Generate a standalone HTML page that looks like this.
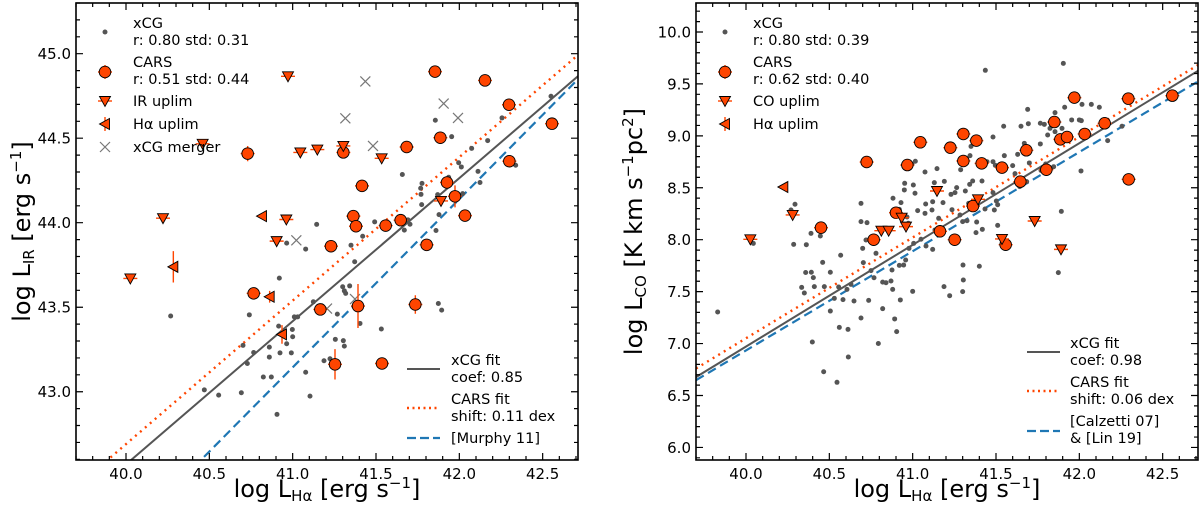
<!DOCTYPE html>
<html><head><meta charset="utf-8"><style>
html,body{margin:0;padding:0;background:#fff;overflow:hidden;width:1200px;height:512px;}
svg{display:block;font-family:"DejaVu Sans","Liberation Sans",sans-serif;}
</style></head><body>
<svg id="fig" width="1200" height="512" viewBox="0 0 1200 512"></svg>
<script>
// ---------- LEFT PANEL DATA ----------
const L_xcg_x=[41.856,41.954,42.170,42.074,42.256,42.550,42.338,41.658,41.996,42.012,42.112,42.124,41.776,41.768,41.936,41.770,41.870,42.020,41.774,41.878,41.860,41.670,41.692,41.704,41.492,41.144,41.420,40.964,41.078,41.350,41.372,40.920,41.300,41.342,41.310,41.318,41.124,40.740,40.268,41.030,41.010,40.998,40.916,41.000,40.964,40.702,41.404,41.268,41.532,41.874,41.894,40.766,40.924,40.992,41.256,41.304,41.310,40.860,40.860,40.728,41.188,41.224,41.078,40.824,40.872,40.470,40.556,40.692,41.104,40.906];
const L_xcg_y=[44.606,44.509,44.486,44.440,44.620,44.748,44.340,44.285,44.355,44.330,44.304,44.238,44.233,44.204,44.269,44.168,44.166,44.172,44.107,44.048,43.954,43.956,44.017,43.991,44.005,43.990,43.920,43.879,43.844,43.867,43.769,43.672,43.621,43.626,43.597,43.582,43.532,43.455,43.448,43.443,43.443,43.368,43.388,43.325,43.284,43.274,43.404,43.459,43.371,43.522,43.483,43.232,43.230,43.230,43.310,43.302,43.270,43.264,43.205,43.167,43.183,43.195,43.115,43.087,43.087,43.011,42.980,42.994,42.974,42.866];
const L_cars_x=[41.854,42.154,42.298,42.556,41.886,41.684,40.730,41.304,42.300,41.416,41.926,41.974,42.034,41.364,41.380,41.558,41.648,41.230,41.804,40.766,41.166,41.392,41.736,41.254,41.536];
const L_cars_y=[44.894,44.842,44.698,44.586,44.503,44.448,44.409,44.416,44.364,44.218,44.238,44.156,44.042,44.039,43.979,43.983,44.015,43.861,43.869,43.582,43.487,43.507,43.516,43.162,43.167];
const L_cars_yerr=[0.01,0.01,0.01,0.01,0.01,0.01,0.045,0.02,0.01,0.035,0.01,0.065,0.01,0.035,0.01,0.01,0.01,0.01,0.01,0.01,0.035,0.13,0.055,0.09,0.01];
const L_irlim_x=[40.972,40.460,41.046,41.148,41.304,41.534,40.222,40.962,40.904,40.026,41.890];
const L_irlim_y=[44.866,44.467,44.416,44.433,44.454,44.381,44.027,44.019,43.891,43.670,44.129];
const L_halim_x=[40.816,40.284,40.862,40.936];
const L_halim_y=[44.039,43.739,43.562,43.339];
const L_halim_yerr=[0.01,0.093,0.035,0.055];
const L_merg_x=[41.436,41.316,41.906,41.992,41.482,41.022,41.206,41.374];
const L_merg_y=[44.836,44.618,44.705,44.620,44.454,43.896,43.492,43.548];
// fit lines: [slope, value at x=41]
const L_fit_xcg=[0.847,43.417];
const L_fit_cars=[0.849,43.539];
const L_fit_murphy=[0.996,43.144];

// ---------- RIGHT PANEL DATA ----------
const R_xcg_x=[41.904,41.436,41.690,41.912,42.016,42.072,42.120,41.854,41.766,41.790,41.954,42.000,42.012,41.824,41.896,41.854,42.256,42.170,41.546,41.650,41.694,41.810,41.766,41.670,41.482,41.350,41.344,41.550,41.482,41.446,41.496,41.600,41.678,41.630,41.700,41.798,41.846,42.010,41.770,41.614,41.298,41.288,41.146,41.074,41.016,40.996,40.952,41.004,40.950,40.882,40.930,41.014,41.130,41.190,41.264,41.230,41.254,41.342,41.360,41.416,41.316,41.336,41.482,41.502,41.434,41.510,41.182,41.120,41.078,41.030,40.966,40.974,41.074,41.116,41.156,41.236,41.284,41.326,41.300,41.384,41.418,41.380,41.134,41.050,41.080,41.120,41.006,40.978,40.958,40.946,40.876,40.920,40.870,40.840,40.820,40.768,40.750,40.700,40.690,40.726,40.720,40.780,40.704,40.880,40.926,41.000,41.188,41.222,41.300,41.304,41.302,41.400,41.510,41.490,41.642,41.684,41.892,41.874,40.820,40.736,40.690,40.648,40.582,40.556,40.606,40.612,40.560,40.506,40.398,40.466,40.546,40.614,40.794,40.892,40.904,40.630,40.568,40.506,40.460,40.392,40.334,40.350,40.404,40.358,40.286,40.362,40.390,40.446,40.294,40.270,40.044,39.830,40.920,40.690,40.470,40.410,40.530];
const R_xcg_y=[9.698,9.631,9.255,9.275,9.303,9.303,9.275,9.223,9.121,9.111,9.153,9.153,9.146,9.072,9.072,9.040,9.092,8.954,9.092,9.092,9.117,9.008,8.922,8.928,8.989,8.899,8.809,8.809,8.751,8.751,8.716,8.713,8.825,8.822,8.739,8.729,8.703,8.662,8.668,8.636,8.739,8.674,8.684,8.652,8.755,8.726,8.543,8.527,8.479,8.399,8.357,8.447,8.549,8.562,8.501,8.437,8.453,8.533,8.565,8.565,8.469,8.350,8.453,8.373,8.296,8.337,8.357,8.366,8.344,8.280,8.219,8.158,8.254,8.286,8.206,8.289,8.238,8.183,8.174,8.170,8.100,8.068,8.094,8.004,7.939,7.907,7.965,7.917,7.805,7.756,7.708,7.753,7.602,7.586,7.592,7.634,7.702,7.917,8.350,8.164,7.997,7.869,7.779,7.522,7.420,7.503,7.548,7.461,7.500,7.612,7.756,7.744,8.138,8.286,8.511,8.559,8.273,7.683,7.336,7.416,7.246,7.410,7.423,7.545,7.522,7.137,7.156,7.313,7.015,6.729,6.627,6.871,7.001,7.237,7.115,7.570,7.850,7.687,7.782,7.687,7.541,7.487,7.635,7.684,7.955,7.952,8.061,8.036,8.341,8.286,7.965,7.304,8.292,8.174,7.548,7.548,7.435];
const R_cars_x=[41.970,42.294,42.558,42.152,41.850,41.886,41.926,42.032,41.304,41.382,41.046,41.226,41.304,41.414,40.968,40.724,41.682,41.536,41.802,41.646,42.296,41.362,40.900,41.164,41.252,40.766,40.450,41.558];
const R_cars_y=[9.368,9.358,9.387,9.121,9.133,8.966,8.989,9.018,9.018,8.954,8.938,8.886,8.758,8.735,8.719,8.748,8.861,8.694,8.674,8.559,8.581,8.324,8.260,8.081,8.000,8.000,8.116,7.952];
const R_colim_x=[41.146,41.392,40.280,40.934,40.960,40.812,40.856,41.536,41.732,41.890,40.026];
const R_colim_y=[8.469,8.389,8.238,8.212,8.126,8.087,8.087,8.007,8.180,7.907,8.004];
const R_halim_x=[40.224];
const R_halim_y=[8.507];
const R_fit_xcg=[0.979,7.950];
const R_fit_cars=[0.970,8.021];
const R_fit_lit=[0.955,7.889];

// ---------- DRAWING ----------
const NS="http://www.w3.org/2000/svg";
const svg=document.getElementById('fig');
function mk(tag,attrs,parent){const e=document.createElementNS(NS,tag);for(const k in attrs)e.setAttribute(k,attrs[k]);(parent||svg).appendChild(e);return e;}
const OR="#ff4500",GR="#555555";
const CR=5.8;

function panel(P){
  const g=mk('g',{});
  
  
  const sx=v=>P.x0+(v-P.xmin)/(P.xmax-P.xmin)*(P.x1-P.x0);
  const sy=v=>P.y1-(v-P.ymin)/(P.ymax-P.ymin)*(P.y1-P.y0);
  const cp=mk('clipPath',{id:P.name+'-clip'},g);
  mk('rect',{x:P.x0,y:P.y0,width:P.x1-P.x0,height:P.y1-P.y0},cp);
  const pg=mk('g',{'clip-path':'url(#'+P.name+'-clip)'},g);
  P.lines.forEach(Ln=>{
    const f=x=>Ln.p[1]+Ln.p[0]*(x-41);
    const l=mk('line',{x1:sx(P.xmin),y1:sy(f(P.xmin)),x2:sx(P.xmax),y2:sy(f(P.xmax)),stroke:Ln.c,'stroke-width':Ln.w,'stroke-dasharray':Ln.d||'none'},pg);
    
    
  });
  P.xcgx.forEach((x,i)=>{
    const c=mk('circle',{cx:sx(x),cy:sy(P.xcgy[i]),r:2.5,fill:GR},pg);
    
    
  });
  (P.mx||[]).forEach((x,i)=>{
    const X=sx(x),Y=sy(P.my[i]),s=5;
    const p=mk('path',{d:`M${X-s},${Y-s}L${X+s},${Y+s}M${X-s},${Y+s}L${X+s},${Y-s}`,stroke:'#777','stroke-width':1.2,fill:'none'},pg);
    
    
  });
  const ppu=(P.y1-P.y0)/(P.ymax-P.ymin);
  function ebar(X,Y,dx,dy){mk('path',{d:`M${X-dx},${Y}L${X+dx},${Y}M${X},${Y-dy}L${X},${Y+dy}`,stroke:OR,'stroke-width':1.4,fill:'none'},pg);}
  P.cx.forEach((x,i)=>{
    const X=sx(x),Y=sy(P.cy[i]);
    ebar(X,Y,7,(P.cyerr?P.cyerr[i]:0.01)*ppu);
    const c=mk('circle',{cx:X,cy:Y,r:CR,fill:OR,stroke:'#000','stroke-width':0.9},pg);
    
    
  });
  P.ux.forEach((x,i)=>{
    const X=sx(x),Y=sy(P.uy[i]);ebar(X,Y,7,2);
    const t=mk('path',{d:`M${X-5.5},${Y-4.5}L${X+5.5},${Y-4.5}L${X},${Y+5.5}Z`,fill:OR,stroke:'#000','stroke-width':0.9},pg);
    
    
  });
  P.hx.forEach((x,i)=>{
    const X=sx(x),Y=sy(P.hy[i]);ebar(X,Y,2,(P.hyerr?P.hyerr[i]:0.01)*ppu);
    const t=mk('path',{d:`M${X+4.5},${Y-5.5}L${X+4.5},${Y+5.5}L${X-5.5},${Y}Z`,fill:OR,stroke:'#000','stroke-width':0.9},pg);
    
    
  });
  const fr=mk('rect',{x:P.x0,y:P.y0,width:P.x1-P.x0,height:P.y1-P.y0,fill:'none',stroke:'#000','stroke-width':1.6},g);
  
  
  let d='';
  for(let k=Math.ceil(P.xmin*10);k<=Math.floor(P.xmax*10);k++){
    const X=sx(k/10),L=(k%5===0)?7:4;
    d+=`M${X},${P.y1}v${-L}M${X},${P.y0}v${L}`;
    if(k%5===0){const t=mk('text',{x:X,y:P.y1+19,'text-anchor':'middle','font-size':15},g);t.textContent=(k/10).toFixed(1);
      }
  }
  for(let k=Math.ceil(P.ymin*10);k<=Math.floor(P.ymax*10);k++){
    const Y=sy(k/10),L=(k%5===0)?7:4;
    d+=`M${P.x0},${Y}h${L}M${P.x1},${Y}h${-L}`;
    if(k%5===0){const t=mk('text',{x:P.x0-5,y:Y+5.5,'text-anchor':'end','font-size':15},g);t.textContent=(k/10).toFixed(1);
      }
  }
  mk('path',{d:d,stroke:'#000','stroke-width':1.2,fill:'none'},g);
  const xl=mk('text',{x:(P.x0+P.x1)/2,y:497,'text-anchor':'middle','font-size':24},g);
  xl.innerHTML='log L<tspan font-size="15" dy="4">Hα</tspan><tspan dy="-4"> [erg s</tspan><tspan font-size="15" dy="-9">−1</tspan><tspan dy="9">]</tspan>';
  
  const yl=mk('text',{x:0,y:0,'text-anchor':'middle','font-size':24,transform:`translate(${P.ylx},${(P.y0+P.y1)/2}) rotate(-90)`},g);
  yl.innerHTML=P.ylab;
  
  P.leg.forEach(e=>{
    const t=mk('text',{x:e[0],y:e[1],'font-size':14.5},g);t.textContent=e[2];t.setAttribute('xml:space','preserve');
    
  });
  return {sx,sy};
}

function legMarkers(x,ys,merger){
  mk('circle',{cx:x,cy:ys[0],r:2.5,fill:GR});
  mk('path',{d:`M${x-7},${ys[1]}h14M${x},${ys[1]-7}v14`,stroke:OR,'stroke-width':1.4});
  mk('circle',{cx:x,cy:ys[1],r:CR,fill:OR,stroke:'#000','stroke-width':0.9});
  mk('path',{d:`M${x-7},${ys[2]}h14`,stroke:OR,'stroke-width':1.4});
  mk('path',{d:`M${x-5.5},${ys[2]-4.5}L${x+5.5},${ys[2]-4.5}L${x},${ys[2]+5.5}Z`,fill:OR,stroke:'#000','stroke-width':0.9});
  mk('path',{d:`M${x},${ys[3]-7}v14`,stroke:OR,'stroke-width':1.4});
  mk('path',{d:`M${x+4.5},${ys[3]-5.5}L${x+4.5},${ys[3]+5.5}L${x-5.5},${ys[3]}Z`,fill:OR,stroke:'#000','stroke-width':0.9});
  if(merger){const s=5,Y=ys[4];mk('path',{d:`M${x-s},${Y-s}L${x+s},${Y+s}M${x-s},${Y+s}L${x+s},${Y-s}`,stroke:'#777','stroke-width':1.2});}
}
function legLines(x,ys){
  mk('line',{x1:x,y1:ys[0],x2:x+33,y2:ys[0],stroke:GR,'stroke-width':2});
  mk('line',{x1:x,y1:ys[1],x2:x+33,y2:ys[1],stroke:OR,'stroke-width':2.4,'stroke-dasharray':'2,3.5'});
  mk('line',{x1:x,y1:ys[2],x2:x+33,y2:ys[2],stroke:'#1f77b4','stroke-width':2.2,'stroke-dasharray':'9,4'});
}

panel({name:'ir-panel',x0:76,x1:578,y0:3,y1:460,xmin:39.70,xmax:42.712,ymin:42.596,ymax:45.300,
  xcgx:L_xcg_x,xcgy:L_xcg_y,cx:L_cars_x,cy:L_cars_y,cyerr:L_cars_yerr,ux:L_irlim_x,uy:L_irlim_y,hx:L_halim_x,hy:L_halim_y,hyerr:L_halim_yerr,mx:L_merg_x,my:L_merg_y,
  lines:[{p:L_fit_cars,c:OR,w:2.4,d:'2,4.5',n:'cars-fit-line'},{p:L_fit_xcg,c:GR,w:2,n:'xcg-fit-line'},{p:L_fit_murphy,c:'#1f77b4',w:2.2,d:'9,5',n:'murphy-line'}],
  ylx:30,ylab:'log L<tspan font-size="15" dy="4">IR</tspan><tspan dy="-4"> [erg s</tspan><tspan font-size="15" dy="-9">−1</tspan><tspan dy="9">]</tspan>',
  leg:[[133,28,'xCG'],[133,45,' r: 0.80 std: 0.31'],[133,67,'CARS'],[133,84,' r: 0.51 std: 0.44'],[133,106,'IR uplim'],[133,129,'Hα uplim'],[133,152,'xCG merger'],
       [451,365,'xCG fit'],[451,382,' coef: 0.85'],[451,404,'CARS fit'],[451,421,' shift: 0.11 dex'],[451,443,'[Murphy 11]']]});
legMarkers(105,[32,72,101,124,147],true);
legLines(407,[369,408,438]);

panel({name:'co-panel',x0:696,x1:1198,y0:3,y1:460,xmin:39.70,xmax:42.712,ymin:5.879,ymax:10.279,
  xcgx:R_xcg_x,xcgy:R_xcg_y,cx:R_cars_x,cy:R_cars_y,ux:R_colim_x,uy:R_colim_y,hx:R_halim_x,hy:R_halim_y,
  lines:[{p:R_fit_cars,c:OR,w:2.4,d:'2,4.5',n:'cars-fit-line'},{p:R_fit_xcg,c:GR,w:2,n:'xcg-fit-line'},{p:R_fit_lit,c:'#1f77b4',w:2.2,d:'9,5',n:'calzetti-lin-line'}],
  ylx:642,ylab:'log L<tspan font-size="15" dy="4">CO</tspan><tspan dy="-4"> [K km s</tspan><tspan font-size="15" dy="-9">−1</tspan><tspan dy="9">pc</tspan><tspan font-size="15" dy="-9">2</tspan><tspan dy="9">]</tspan>',
  leg:[[753,28,'xCG'],[753,45,' r: 0.80 std: 0.39'],[753,67,'CARS'],[753,84,' r: 0.62 std: 0.40'],[753,106,'CO uplim'],[753,129,'Hα uplim'],
       [1070,348,'xCG fit'],[1070,365,' coef: 0.98'],[1070,387,'CARS fit'],[1070,404,' shift: 0.06 dex'],[1070,426,'[Calzetti 07]'],[1070,443,' & [Lin 19]']]});
legMarkers(725,[32,72,101,124]);
legLines(1027,[352,391,431]);
</script>
</body></html>
